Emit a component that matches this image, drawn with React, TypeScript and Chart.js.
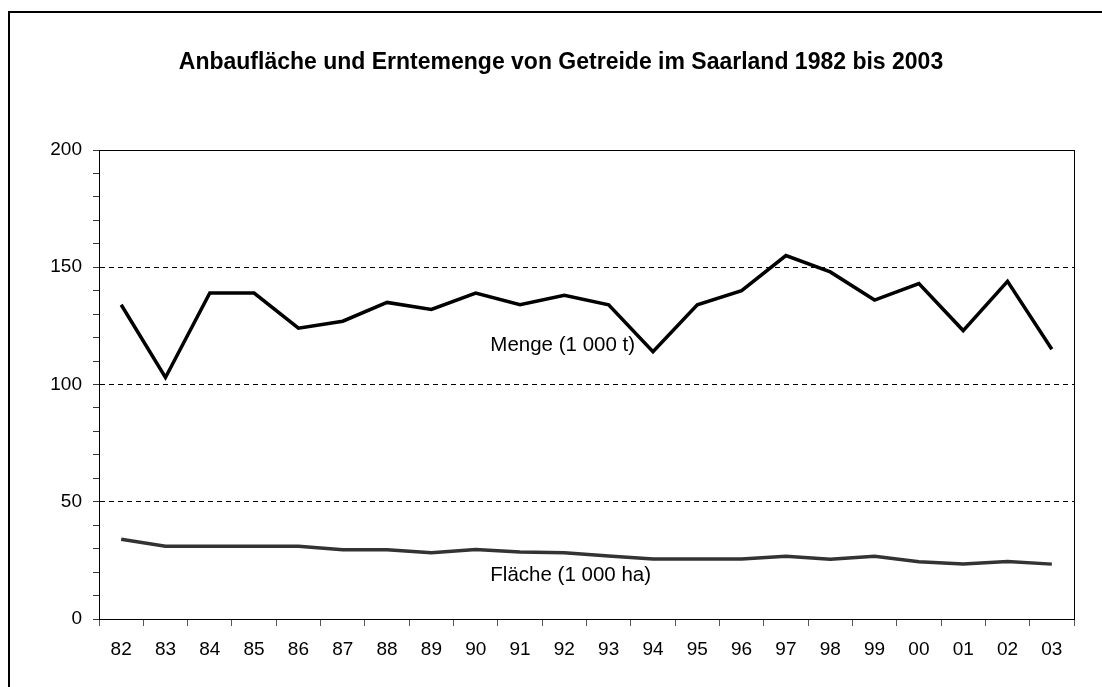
import React, { useEffect, useRef } from "react";
import { Chart, registerables } from "chart.js";

Chart.register(...registerables);

const titleText = "Anbaufläche und Erntemenge von Getreide im Saarland 1982 bis 2003";
const years = ["82", "83", "84", "85", "86", "87", "88", "89", "90", "91", "92", "93", "94", "95", "96", "97", "98", "99", "00", "01", "02", "03"];
const menge = [134, 103, 139, 139, 124, 127, 135, 132, 139, 134, 138, 134, 114, 134, 140, 155, 148, 136, 143, 123, 144, 115];
const flaeche = [34, 31, 31, 31, 31, 29.5, 29.5, 28.3, 29.6, 28.6, 28.2, 26.9, 25.6, 25.6, 25.6, 26.8, 25.5, 26.8, 24.4, 23.5, 24.5, 23.4];
const mengeLabel = "Menge (1 000 t)";
const flaecheLabel = "Fläche (1 000 ha)";
const yMin = 0;
const yMax = 200;
const yMinorStep = 10;
const yLabelStep = 50;

const FONT = "'Liberation Sans', Arial, sans-serif";

const decorPlugin = {
  id: "decor",
  beforeDatasetsDraw(chart: any) {
    const { ctx, chartArea } = chart;
    ctx.save();
    ctx.strokeStyle = "#000";
    ctx.lineWidth = 1;
    ctx.setLineDash([]);
    ctx.strokeRect(Math.round(chartArea.left) + 0.5, Math.round(chartArea.top) + 0.5, Math.round(chartArea.right - chartArea.left), Math.round(chartArea.bottom - chartArea.top));
    ctx.restore();
  },
  afterDraw(chart: any) {
    const { ctx, scales } = chart;
    ctx.save();
    // outer frame
    ctx.strokeStyle = "#000";
    ctx.lineWidth = 2;
    ctx.setLineDash([]);
    ctx.strokeRect(9, 12, 1200, 800);
    // title
    ctx.fillStyle = "#000";
    ctx.font = `bold 23px ${FONT}`;
    ctx.textAlign = "center";
    ctx.textBaseline = "middle";
    ctx.fillText(titleText, 561, 63);
    // series labels
    ctx.font = `20.5px ${FONT}`;
    ctx.textAlign = "left";
    const x = scales.x.getPixelForValue(10) - 74;
    ctx.fillText(mengeLabel, x, scales.y.getPixelForValue(116.5));
    ctx.fillText(flaecheLabel, x, scales.y.getPixelForValue(18.5));
    ctx.restore();
  },
};

export default function App() {
  const ref = useRef<HTMLCanvasElement>(null);
  useEffect(() => {
    if (!ref.current) return;
    const chart = new Chart(ref.current, {
      type: "line",
      data: {
        labels: years,
        datasets: [
          {
            label: mengeLabel,
            data: menge,
            borderColor: "#000",
            borderWidth: 3.5,
            pointRadius: 0,
            tension: 0,
            borderJoinStyle: "miter",
          },
          {
            label: flaecheLabel,
            data: flaeche,
            borderColor: "#333",
            borderWidth: 3.5,
            pointRadius: 0,
            tension: 0,
            borderJoinStyle: "miter",
          },
        ],
      },
      options: {
        responsive: false,
        animation: false,
        devicePixelRatio: 1,
        layout: { padding: { top: 150, left: 0, right: 28, bottom: 18 } },
        plugins: {
          legend: { display: false },
          title: { display: false },
          tooltip: { enabled: false },
        },
        scales: {
          x: {
            type: "category",
            offset: true,
            afterFit: (s: any) => {
              s.height = 50;
            },
            grid: {
              offset: true,
              drawOnChartArea: false,
              drawTicks: true,
              tickLength: 7,
              tickColor: "#555",
              tickWidth: 1,
            },
            border: { display: true, color: "#000", width: 1 },
            ticks: {
              color: "#000",
              font: { family: FONT, size: 19 },
              padding: 12,
              maxRotation: 0,
              autoSkip: false,
            },
          },
          y: {
            min: yMin,
            max: yMax,
            afterFit: (s: any) => {
              s.width = 99;
            },
            grid: {
              drawTicks: true,
              tickLength: 6,
              color: (c: any) => {
                const v = c.tick ? c.tick.value : 0;
                return v > yMin && v < yMax && v % yLabelStep === 0 ? "#000" : "rgba(0,0,0,0)";
              },
              tickColor: "#333",
              tickWidth: 1,
              tickBorderDash: [],
            },
            border: { display: true, color: "#000", width: 1, dash: [5, 4] },
            ticks: {
              stepSize: yMinorStep,
              autoSkip: false,
              color: "#000",
              font: { family: FONT, size: 19 },
              padding: 11,
              callback: (v: any) => (Number(v) % yLabelStep === 0 ? String(v) : ""),
            },
          },
        },
      },
      plugins: [decorPlugin],
    } as any);
    return () => chart.destroy();
  }, []);
  return (
    <div style={{ position: "fixed", left: 0, top: 0, width: 1102, height: 687, background: "#fff" }}>
      <canvas ref={ref} width={1102} height={687} style={{ display: "block" }} />
    </div>
  );
}
